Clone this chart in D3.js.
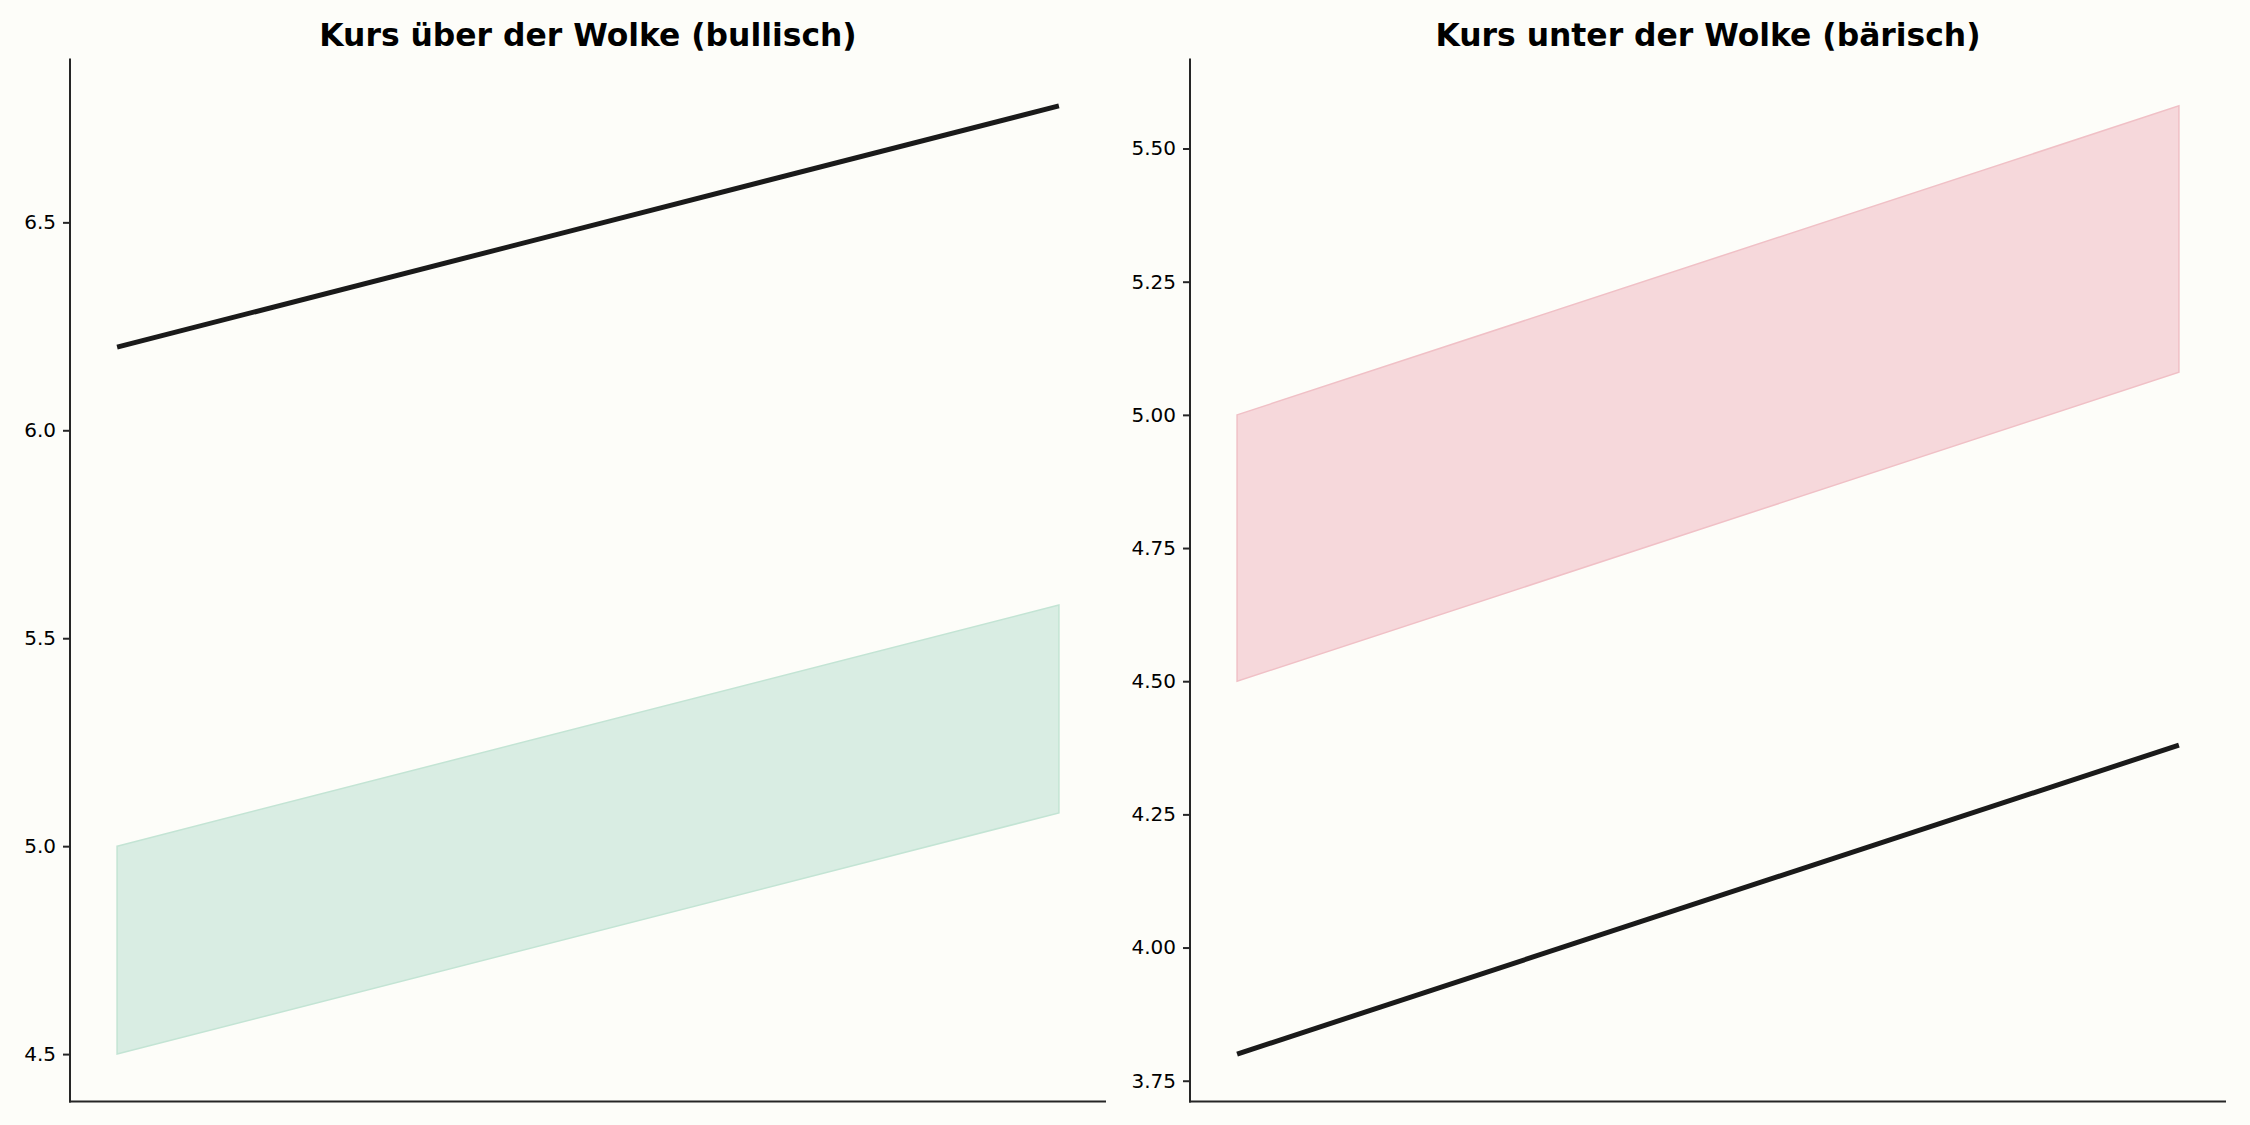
<!DOCTYPE html>
<html><head><meta charset="utf-8">
<script src="https://cdn.jsdelivr.net/npm/d3@7"></script>
<style>html,body{margin:0;padding:0;background:#fdfdf9;}svg{display:block;}</style>
</head><body>
<svg id="chart" width="2250" height="1125"></svg>
<script>
// Data
const xSteps = [0, 1];
const titles = ["Kurs über der Wolke (bullisch)", "Kurs unter der Wolke (bärisch)"];
const bullPrice = [6.2, 6.78];
const bullCloudUpper = [5.0, 5.58];
const bullCloudLower = [4.5, 5.08];
const bearPrice = [3.8, 4.38];
const bearCloudUpper = [5.0, 5.58];
const bearCloudLower = [4.5, 5.08];
const bullTicks = [4.5, 5.0, 5.5, 6.0, 6.5];
const bearTicks = [3.75, 4.0, 4.25, 4.5, 4.75, 5.0, 5.25, 5.5];

const panels = [
  {title: titles[0], price: bullPrice, up: bullCloudUpper, lo: bullCloudLower, ticks: bullTicks, fmt: d3.format(".1f"),
   fill: "#d9ede3", stroke: "#c3e4d4", left: 70},
  {title: titles[1], price: bearPrice, up: bearCloudUpper, lo: bearCloudLower, ticks: bearTicks, fmt: d3.format(".2f"),
   fill: "#f6d8db", stroke: "#f0c0c6", left: 1190}
];

const svg = d3.select("#chart");
svg.append("rect").attr("width", 2250).attr("height", 1125).attr("fill", "#fdfdf9");
const plotTop = 58.5, plotBottom = 1101.5, plotWidth = 1036;

panels.forEach(p => {
  const all = p.price.concat(p.up, p.lo);
  const mn = d3.min(all), mx = d3.max(all), pad = (mx - mn) * 0.05;
  const x = d3.scaleLinear().domain([xSteps[0] - 0.05, xSteps[1] + 0.05]).range([p.left, p.left + plotWidth]);
  const y = d3.scaleLinear().domain([mn - pad, mx + pad]).range([plotBottom, plotTop]);
  const g = svg.append("g");

  const area = d3.area().x((d, i) => x(xSteps[i])).y0((d, i) => y(p.lo[i])).y1((d, i) => y(p.up[i]));
  g.append("path").datum(p.up).attr("d", area).attr("fill", p.fill)
    .attr("stroke", p.stroke).attr("stroke-width", 1.5);

  const line = d3.line().x((d, i) => x(xSteps[i])).y(d => y(d));
  g.append("path").datum(p.price).attr("d", line).attr("fill", "none")
    .attr("stroke", "#1a1a1a").attr("stroke-width", 5).attr("stroke-linecap", "butt");

  const ax = g.append("g").attr("transform", `translate(${p.left},0)`)
    .call(d3.axisLeft(y).tickValues(p.ticks).tickFormat(p.fmt).tickSize(7).tickPadding(7));
  ax.select(".domain").remove();
  ax.selectAll(".tick line").attr("stroke", "#262626").attr("stroke-width", 2);
  ax.selectAll(".tick text").attr("font-family", "DejaVu Sans").attr("font-size", 20).attr("fill", "#000");

  g.append("line").attr("x1", p.left).attr("x2", p.left).attr("y1", plotTop).attr("y2", plotBottom + 1)
    .attr("stroke", "#262626").attr("stroke-width", 2);
  g.append("line").attr("x1", p.left - 1).attr("x2", p.left + plotWidth).attr("y1", plotBottom).attr("y2", plotBottom)
    .attr("stroke", "#262626").attr("stroke-width", 2);

  g.append("text").attr("x", p.left + plotWidth / 2).attr("y", 46).attr("text-anchor", "middle")
    .attr("font-family", "DejaVu Sans").attr("font-weight", "bold").attr("font-size", 31.4)
    .attr("fill", "#000").text(p.title);
});
</script>
</body></html>
